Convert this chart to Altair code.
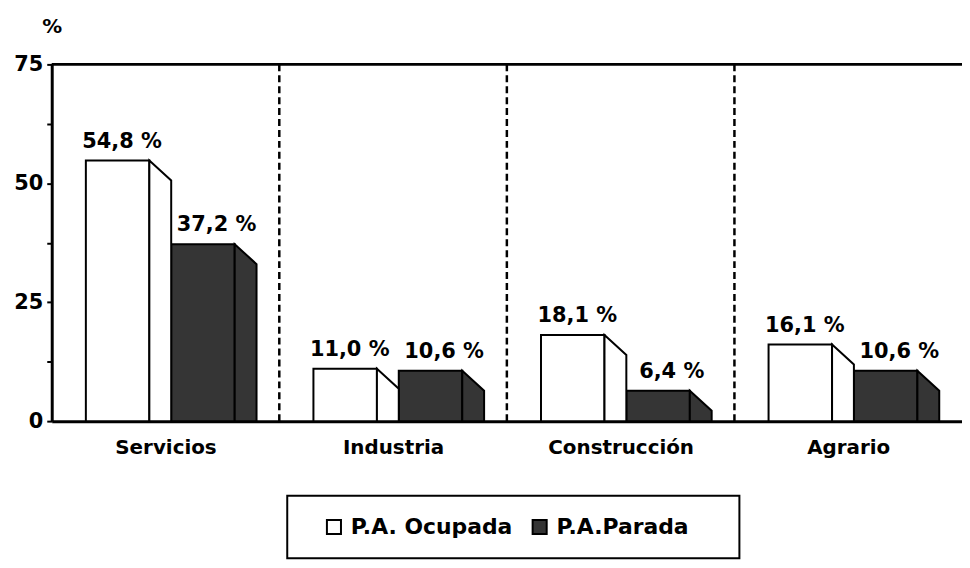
import altair as alt
import pandas as pd

# ---- data ----
categories = ["Servicios", "Industria", "Construcción", "Agrario"]
ocupada = [54.8, 11.0, 18.1, 16.1]
parada = [37.2, 10.6, 6.4, 10.6]
series_names = ["P.A. Ocupada", "P.A.Parada"]
y_ticks = [0, 12.5, 25, 37.5, 50, 62.5, 75]

# ---- layout constants (category units) ----
START = 0.15
FRONT_W = 0.279
SIDE_D = 0.096
DROP = 4.2
FONT = "DejaVu Sans"

front_rows, side_rows = [], []
for i, cat in enumerate(categories):
    for s, vals in enumerate([ocupada, parada]):
        v = vals[i]
        x0 = i + START + s * (FRONT_W + SIDE_D)
        x1 = x0 + FRONT_W
        lab = f"{v:.1f} %".replace(".", ",")
        lx = (x0 + x1) / 2 + (0.02 if s == 0 else 0.06)
        front_rows.append(dict(cat=cat, serie=series_names[s], value=v, base=0,
                               x0=x0, x1=x1, label=lab, label_x=lx))
        bid = f"{cat}-{s}"
        side_rows.append(dict(bar=bid, serie=series_names[s], x=x1, y=v, y0=0))
        side_rows.append(dict(bar=bid, serie=series_names[s], x=x1 + SIDE_D,
                              y=max(v - DROP, 0), y0=0))

df_front = pd.DataFrame(front_rows)
df_side = pd.DataFrame(side_rows)

x_scale = alt.Scale(domain=[0, len(categories)], nice=False, zero=False)
y_scale = alt.Scale(domain=[0, 75], nice=False)
color_scale = alt.Scale(domain=series_names, range=["#ffffff", "#353535"])

cat_js = "[" + ",".join("'" + c + "'" for c in categories) + "]"

x_axis = alt.Axis(
    values=[i + 0.5 for i in range(len(categories))],
    labelExpr=f"{cat_js}[floor(datum.value)]",
    ticks=False, grid=False, title=None,
    domainColor="black", domainWidth=3,
    labelFont=FONT, labelFontSize=20, labelFontWeight="bold", labelColor="black",
    labelPadding=17, labelBaseline="top",
)
y_axis = alt.Axis(
    values=y_ticks,
    labelExpr="datum.value % 25 == 0 ? datum.label : ''",
    grid=False, tickSize=5, tickWidth=2, tickColor="black",
    domainColor="black", domainWidth=3,
    labelFont=FONT, labelFontSize=21, labelFontWeight="bold", labelColor="black",
    labelPadding=4,
    title="%", titleAngle=0, titleX=0, titleY=-38, titleAlign="center",
    titleBaseline="middle", titleFont=FONT, titleFontSize=20, titleFontWeight="bold",
    titleColor="black",
)

legend = alt.Legend(
    title="\u2007", titleOrient="right", titlePadding=31,
    titleFont=FONT, titleFontSize=20,
    orient="none", direction="horizontal",
    legendX=237, legendY=434,
    symbolType="square", symbolSize=200, symbolStrokeColor="black",
    symbolStrokeWidth=2, symbolOpacity=1, symbolOffset=16,
    labelFont=FONT, labelFontSize=22, labelFontWeight="bold", labelColor="black",
    labelLimit=400,
    labelOffset=6, columnPadding=0, padding=20, strokeColor="black",
)

front = alt.Chart(df_front).mark_rect(stroke="black", strokeWidth=2).encode(
    x=alt.X("x0:Q", scale=x_scale, axis=x_axis),
    x2="x1:Q",
    y=alt.Y("value:Q", scale=y_scale, axis=y_axis),
    y2="base:Q",
    color=alt.Color("serie:N", scale=color_scale, legend=legend),
)

sides = alt.Chart(df_side).mark_area(stroke="black", strokeWidth=2,
                                     interpolate="linear", opacity=1).encode(
    x=alt.X("x:Q", scale=x_scale),
    y=alt.Y("y:Q", scale=y_scale),
    y2="y0:Q",
    color=alt.Color("serie:N", scale=color_scale),
    detail="bar:N",
)

labels = alt.Chart(df_front).mark_text(
    font=FONT, fontSize=21, fontWeight="bold", color="black",
    align="center", baseline="alphabetic", dy=-13,
).encode(
    x=alt.X("label_x:Q", scale=x_scale),
    y=alt.Y("value:Q", scale=y_scale),
    text="label:N",
)

top_line = alt.Chart(pd.DataFrame({"y": [75]})).mark_rule(
    color="black", strokeWidth=3).encode(y=alt.Y("y:Q", scale=y_scale))

separators = alt.Chart(pd.DataFrame({"x": list(range(1, len(categories)))})).mark_rule(
    color="black", strokeWidth=2.5, strokeDash=[7, 4]).encode(
    x=alt.X("x:Q", scale=x_scale))

chart = alt.layer(separators, front, sides, labels, top_line).properties(
    width=916, height=359,
    autosize=alt.AutoSizeParams(type="none"),
    padding={"left": 44, "top": 55, "right": 0, "bottom": 138},
).configure_view(stroke=None).configure_legend(strokeWidth=2)

chart.save("out.html", embed_options={"renderer": "svg", "actions": False})
